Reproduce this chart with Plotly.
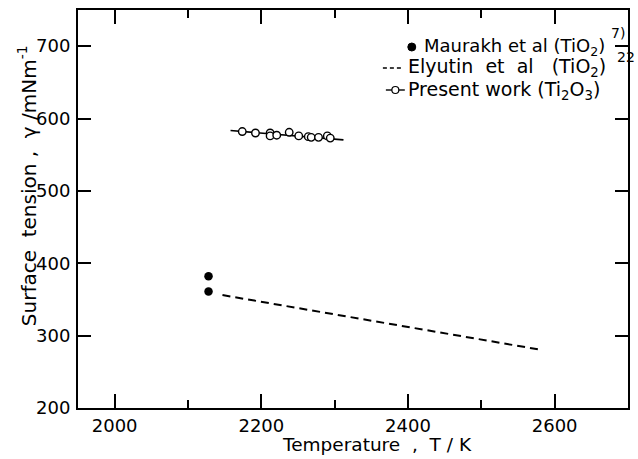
import plotly.graph_objects as go

# ---- data ----
present_T = [2174, 2192, 2212, 2212, 2221, 2238, 2251, 2264, 2268, 2278, 2290, 2294]
present_g = [582, 580, 580, 576, 577, 581, 576, 575, 574, 574, 576, 573]
fit_T = [2158, 2312]
fit_g = [583.5, 570.5]
maurakh_T = [2128, 2128]
maurakh_g = [382, 361]
elyutin_T = [2147, 2578]
elyutin_g = [356, 281]
x_ticks = [2000, 2200, 2400, 2600]
y_ticks = [200, 300, 400, 500, 600, 700]

FONT = "DejaVu Sans"
L, R, T, B = 78, 8, 10, 51
W, H = 638, 459
PW, PH = W - L - R, H - T - B

def px(x):
    return (x - L) / PW

def py(y):
    return (H - B - y) / PH

fig = go.Figure()
fig.add_trace(go.Scatter(x=fit_T, y=fit_g, mode="lines",
                         line=dict(color="black", width=1.6), showlegend=False))
fig.add_trace(go.Scatter(x=present_T, y=present_g, mode="markers",
                         marker=dict(symbol="circle", size=7.5, color="white",
                                     line=dict(color="black", width=1.4)),
                         showlegend=False))
fig.add_trace(go.Scatter(x=elyutin_T, y=elyutin_g, mode="lines",
                         line=dict(color="black", width=2, dash="8px,5px"),
                         showlegend=False))
fig.add_trace(go.Scatter(x=maurakh_T, y=maurakh_g, mode="markers",
                         marker=dict(symbol="circle", size=8.5, color="black"),
                         showlegend=False))

axis_common = dict(showline=True, linecolor="black", linewidth=2, mirror="allticks",
                   ticks="inside", tickcolor="black", showgrid=False, zeroline=False,
                   tickfont=dict(family=FONT, size=18, color="black"))

fig.update_xaxes(range=[1950, 2700], tickvals=x_ticks, ticklen=14, tickwidth=1.5,
                 ticklabelstandoff=0,
                 minor=dict(dtick=100, tick0=2000, ticks="inside", ticklen=8,
                            tickwidth=1.5, tickcolor="black"),
                 **axis_common)
fig.update_yaxes(range=[200, 750], tickvals=y_ticks, ticklen=13, tickwidth=1.5,
                 ticklabelstandoff=2, **axis_common)

shapes = []
# legend keys
r = 4
shapes.append(dict(type="circle", xref="paper", yref="paper",
                   x0=px(413 - r), x1=px(413 + r), y0=py(47 + r), y1=py(47 - r),
                   fillcolor="black", line=dict(color="black", width=1)))
shapes.append(dict(type="line", xref="paper", yref="paper",
                   x0=px(384), x1=px(404), y0=py(68), y1=py(68),
                   line=dict(color="black", width=1.6, dash="4px,3px")))
shapes.append(dict(type="line", xref="paper", yref="paper",
                   x0=px(387), x1=px(406), y0=py(90), y1=py(90),
                   line=dict(color="black", width=1.4)))
r2 = 3.5
shapes.append(dict(type="circle", xref="paper", yref="paper",
                   x0=px(396.5 - r2), x1=px(396.5 + r2), y0=py(90 + r2), y1=py(90 - r2),
                   fillcolor="white", line=dict(color="black", width=1.2)))

annots = []
sf = dict(family=FONT, size=14, color="black")

def ann(text, x, y, font, xanchor="left", **kw):
    annots.append(dict(text=text, x=px(x), y=py(y), xref="paper", yref="paper",
                       xanchor=xanchor, yanchor="middle", showarrow=False,
                       font=font, **kw))

ann("Maurakh et al (TiO<sub>2</sub>)", 423, 47, dict(family=FONT, size=18, color="black"))
ann("Elyutin  et  al   (TiO<sub>2</sub>)", 407, 68, dict(family=FONT, size=19, color="black"))
ann("Present work (Ti<sub>2</sub>O<sub>3</sub>)", 407, 90, dict(family=FONT, size=19, color="black"))
ann("7)", 611, 33, sf)
ann("22", 617, 57, sf)
# axis titles
ann("Temperature  ,  T / K", 378, 445, dict(family=FONT, size=18.5, color="black"),
    xanchor="center")
ann("Surface  tension ,  γ /mNm<sup>-1</sup>", 27, 186,
    dict(family=FONT, size=20, color="black"), xanchor="center", textangle=-90)

fig.update_layout(width=W, height=H, margin=dict(l=L, r=R, t=T, b=B),
                  paper_bgcolor="white", plot_bgcolor="white",
                  shapes=shapes, annotations=annots, showlegend=False)

fig.write_html("out.html")
